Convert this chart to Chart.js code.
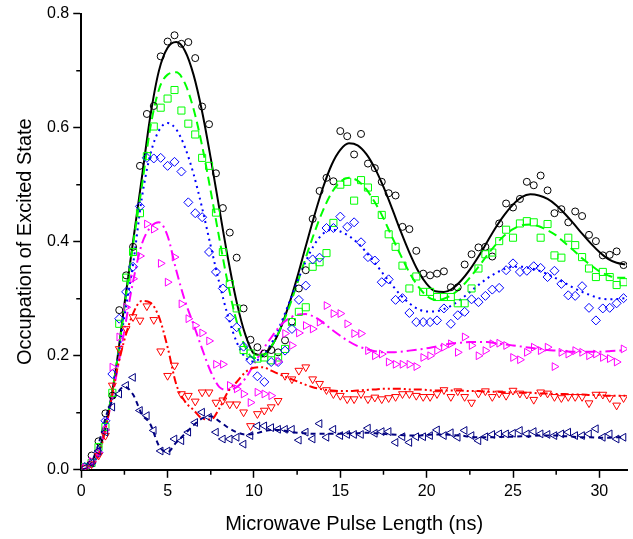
<!DOCTYPE html>
<html lang="en">
<head>
<meta charset="UTF-8">
<title>Occupation of Excited State</title>
<script src="https://cdn.jsdelivr.net/npm/chart.js"></script>
<style>
  html, body { margin: 0; padding: 0; background: #fff; }
  #wrap { width: 633px; height: 539px; }
</style>
</head>
<body>
<div id="wrap"><canvas id="chart" width="633" height="539"></canvas></div>
<script>
// measured pulse lengths (ns)
const pulseLength = [
  0.2, 0.6, 1.0, 1.4, 1.8, 2.2, 2.6, 3.0, 3.4, 3.8,
  4.2, 4.6, 5.0, 5.4, 5.8, 6.2, 6.6, 7.0, 7.4, 7.8,
  8.2, 8.6, 9.0, 9.4, 9.8, 10.2, 10.6, 11.0, 11.4, 11.8,
  12.2, 12.6, 13.0, 13.4, 13.8, 14.2, 14.6, 15.0, 15.4, 15.8,
  16.2, 16.6, 17.0, 17.4, 17.8, 18.2, 18.6, 19.0, 19.4, 19.8,
  20.2, 20.6, 21.0, 21.4, 21.8, 22.2, 22.6, 23.0, 23.4, 23.8,
  24.2, 24.6, 25.0, 25.4, 25.8, 26.2, 26.6, 27.0, 27.4, 27.8,
  28.2, 28.6, 29.0, 29.4, 29.8, 30.2, 30.6, 31.0, 31.4
];

const circleData = [
  0.005, 0.025, 0.05, 0.099, 0.13, 0.28, 0.341, 0.391, 0.533, 0.624,
  0.638, 0.725, 0.751, 0.762, 0.747, 0.75, 0.722, 0.637, 0.606, 0.52,
  0.459, 0.416, 0.372, 0.283, 0.228, 0.215, 0.204, 0.21, 0.206, 0.227,
  0.26, 0.318, 0.35, 0.44, 0.489, 0.512, 0.506, 0.594, 0.585, 0.553,
  0.589, 0.537, 0.529, 0.505, 0.485, 0.481, 0.426, 0.422, 0.384, 0.344,
  0.341, 0.344, 0.348, 0.32, 0.32, 0.36, 0.378, 0.39, 0.391, 0.374,
  0.432, 0.467, 0.46, 0.475, 0.505, 0.499, 0.516, 0.49, 0.45, 0.457,
  0.434, 0.453, 0.445, 0.412, 0.401, 0.376, 0.377, 0.383, 0.359
];
const squareData = [
  0.005, 0.012, 0.04, 0.075, 0.135, 0.256, 0.337, 0.382, 0.45, 0.55,
  0.602, 0.635, 0.651, 0.666, 0.63, 0.607, 0.588, 0.547, 0.533, 0.451,
  0.382, 0.326, 0.283, 0.21, 0.204, 0.195, 0.197, 0.192, 0.197, 0.212,
  0.259, 0.277, 0.285, 0.356, 0.364, 0.38, 0.433, 0.5, 0.505, 0.472,
  0.508, 0.495, 0.473, 0.447, 0.413, 0.391, 0.358, 0.318, 0.339, 0.312,
  0.312, 0.303, 0.303, 0.303, 0.292, 0.292, 0.318, 0.353, 0.378, 0.381,
  0.401, 0.421, 0.407, 0.432, 0.436, 0.434, 0.407, 0.431, 0.376, 0.372,
  0.407, 0.394, 0.373, 0.353, 0.338, 0.347, 0.338, 0.324, 0.329
];
const diamondData = [
  0.005, 0.012, 0.03, 0.086, 0.168, 0.265, 0.312, 0.356, 0.462, 0.547,
  0.546, 0.547, 0.533, 0.54, 0.523, 0.469, 0.45, 0.443, 0.382, 0.347,
  0.318, 0.267, 0.25, 0.216, 0.192, 0.164, 0.154, 0.189, 0.189, 0.209,
  0.247, 0.298, 0.323, 0.369, 0.372, 0.424, 0.424, 0.444, 0.426, 0.434,
  0.399, 0.373, 0.367, 0.329, 0.334, 0.298, 0.301, 0.275, 0.259, 0.259,
  0.259, 0.262, 0.283, 0.256, 0.271, 0.277, 0.299, 0.294, 0.305, 0.316,
  0.319, 0.35, 0.362, 0.347, 0.349, 0.357, 0.354, 0.338, 0.349, 0.326,
  0.306, 0.305, 0.322, 0.284, 0.262, 0.283, 0.284, 0.292, 0.301
];
const rightTriData = [
  0.004, 0.015, 0.03, 0.07, 0.18, 0.233, 0.285, 0.335, 0.375, 0.431,
  0.422, 0.362, 0.329, 0.373, 0.291, 0.265, 0.253, 0.24, 0.226, 0.185,
  0.185, 0.148, 0.142, 0.133, 0.118, 0.136, 0.133, 0.13, 0.19, 0.239,
  0.218, 0.24, 0.253, 0.247, 0.259, 0.288, 0.274, 0.274, 0.256, 0.239,
  0.239, 0.209, 0.2, 0.203, 0.189, 0.185, 0.185, 0.185, 0.181, 0.197,
  0.2, 0.209, 0.215, 0.221, 0.206, 0.233, 0.218, 0.2, 0.209, 0.221,
  0.222, 0.218, 0.197, 0.193, 0.206, 0.215, 0.209, 0.215, 0.181, 0.206,
  0.203, 0.209, 0.206, 0.2, 0.203, 0.197, 0.195, 0.189, 0.212
];
const downTriData = [
  0.003, 0.01, 0.025, 0.06, 0.148, 0.212, 0.247, 0.268, 0.262, 0.287,
  0.263, 0.208, 0.165, 0.183, 0.133, 0.13, 0.12, 0.136, 0.136, 0.118,
  0.122, 0.115, 0.115, 0.101, 0.077, 0.098, 0.104, 0.11, 0.121, 0.165,
  0.159, 0.174, 0.18, 0.159, 0.151, 0.14, 0.133, 0.13, 0.124, 0.124,
  0.133, 0.124, 0.127, 0.124, 0.126, 0.128, 0.133, 0.133, 0.13, 0.128,
  0.128, 0.133, 0.14, 0.128, 0.138, 0.128, 0.118, 0.134, 0.138, 0.128,
  0.134, 0.13, 0.139, 0.134, 0.132, 0.123, 0.136, 0.134, 0.128, 0.126,
  0.128, 0.128, 0.128, 0.117, 0.132, 0.132, 0.126, 0.113, 0.126
];
const leftTriData = [
  0.003, 0.012, 0.033, 0.066, 0.11, 0.133, 0.148, 0.162, 0.104, 0.095,
  0.069, 0.033, 0.033, 0.054, 0.051, 0.066, 0.083, 0.101, 0.092, 0.066,
  0.054, 0.054, 0.057, 0.045, 0.06, 0.077, 0.077, 0.074, 0.071, 0.071,
  0.071, 0.052, 0.066, 0.054, 0.081, 0.057, 0.071, 0.06, 0.062, 0.062,
  0.062, 0.073, 0.064, 0.067, 0.067, 0.048, 0.058, 0.048, 0.058, 0.058,
  0.06, 0.07, 0.06, 0.065, 0.057, 0.069, 0.06, 0.051, 0.058, 0.062,
  0.063, 0.063, 0.064, 0.069, 0.063, 0.067, 0.063, 0.062, 0.06, 0.063,
  0.066, 0.06, 0.06, 0.063, 0.072, 0.057, 0.063, 0.054, 0.057
];

const fitLength = [
  0, 0.5, 1, 1.5, 2, 2.5, 3, 3.5,
  4, 4.5, 5, 5.5, 6, 6.5, 7, 7.5,
  8, 8.5, 9, 9.5, 10, 10.5, 11, 11.5,
  12, 12.5, 13, 13.5, 14, 14.5, 15, 15.5,
  16, 16.5, 17, 17.5, 18, 18.5, 19, 19.5,
  20, 20.5, 21, 21.5, 22, 22.5, 23, 23.5,
  24, 24.5, 25, 25.5, 26, 26.5, 27, 27.5,
  28, 28.5, 29, 29.5, 30, 30.5, 31, 31.5
];
const circleFit = [
  0, 0.005, 0.03, 0.09, 0.175, 0.29, 0.4, 0.51,
  0.62, 0.7, 0.74, 0.75, 0.735, 0.693, 0.628, 0.546,
  0.457, 0.37, 0.294, 0.237, 0.204, 0.201, 0.216, 0.245,
  0.287, 0.337, 0.392, 0.446, 0.495, 0.535, 0.561, 0.5725,
  0.569, 0.554, 0.529, 0.496, 0.458, 0.418, 0.381, 0.349,
  0.326, 0.313, 0.312, 0.318, 0.332, 0.351, 0.374, 0.3995,
  0.425, 0.447, 0.465, 0.478, 0.483, 0.481, 0.475, 0.464,
  0.449, 0.432, 0.414, 0.397, 0.382, 0.37, 0.363, 0.36
];
const squareFit = [
  0, 0.005, 0.03, 0.09, 0.175, 0.285, 0.395, 0.495,
  0.6, 0.667, 0.693, 0.697, 0.678, 0.633, 0.568, 0.488,
  0.405, 0.325, 0.26, 0.215, 0.196, 0.199, 0.216, 0.245,
  0.282, 0.326, 0.372, 0.416, 0.455, 0.486, 0.505, 0.512,
  0.507, 0.492, 0.469, 0.441, 0.408, 0.376, 0.346, 0.322,
  0.305, 0.298, 0.3, 0.3075, 0.32, 0.337, 0.356, 0.376,
  0.395, 0.411, 0.422, 0.429, 0.43, 0.427, 0.42, 0.411,
  0.398, 0.385, 0.371, 0.359, 0.348, 0.341, 0.337, 0.337
];
const diamondFit = [
  0, 0.005, 0.03, 0.09, 0.17, 0.27, 0.36, 0.475,
  0.553, 0.595, 0.608, 0.597, 0.566, 0.519, 0.459, 0.392,
  0.327, 0.269, 0.224, 0.197, 0.19, 0.2, 0.221, 0.2525,
  0.29, 0.329, 0.3655, 0.395, 0.414, 0.421, 0.418, 0.41,
  0.398, 0.3815, 0.363, 0.343, 0.324, 0.306, 0.292, 0.282,
  0.2775, 0.2777, 0.282, 0.289, 0.2997, 0.3116, 0.324, 0.3355,
  0.345, 0.352, 0.3558, 0.356, 0.3537, 0.3493, 0.343, 0.3357,
  0.3275, 0.319, 0.312, 0.306, 0.301, 0.299, 0.2995, 0.301
];
const rightTriFit = [
  0, 0.005, 0.03, 0.085, 0.16, 0.245, 0.33, 0.395,
  0.425, 0.434, 0.41, 0.35, 0.297, 0.255, 0.212, 0.172,
  0.145, 0.14, 0.145, 0.16, 0.185, 0.21, 0.232, 0.252,
  0.265, 0.272, 0.273, 0.268, 0.258, 0.246, 0.235, 0.225,
  0.217, 0.212, 0.208, 0.206, 0.206, 0.207, 0.209, 0.211,
  0.213, 0.216, 0.219, 0.222, 0.223, 0.224, 0.224, 0.224,
  0.222, 0.22, 0.218, 0.216, 0.214, 0.212, 0.21, 0.209,
  0.208, 0.207, 0.207, 0.207, 0.207, 0.208, 0.209, 0.209
];
const downTriFit = [
  0, 0.004, 0.025, 0.085, 0.165, 0.228, 0.274, 0.296,
  0.293, 0.268, 0.215, 0.15, 0.12, 0.105, 0.09, 0.088,
  0.108, 0.137, 0.154, 0.171, 0.179, 0.18, 0.174, 0.167,
  0.161, 0.155, 0.149, 0.144, 0.141, 0.139, 0.138, 0.138,
  0.139, 0.14, 0.141, 0.142, 0.142, 0.142, 0.141, 0.141,
  0.14, 0.139, 0.139, 0.139, 0.139, 0.138, 0.138, 0.137,
  0.137, 0.136, 0.136, 0.135, 0.135, 0.134, 0.134, 0.133,
  0.133, 0.132, 0.132, 0.131, 0.131, 0.13, 0.13, 0.13
];
const leftTriFit = [
  0, 0.008, 0.045, 0.1, 0.13, 0.146, 0.132, 0.098,
  0.08, 0.042, 0.031, 0.048, 0.063, 0.078, 0.09, 0.094,
  0.085, 0.074, 0.066, 0.062, 0.063, 0.067, 0.07, 0.07,
  0.067, 0.065, 0.064, 0.063, 0.063, 0.063, 0.063, 0.064,
  0.064, 0.065, 0.064, 0.063, 0.062, 0.061, 0.06, 0.06,
  0.061, 0.062, 0.062, 0.061, 0.06, 0.058, 0.057, 0.057,
  0.057, 0.058, 0.058, 0.059, 0.059, 0.06, 0.06, 0.06,
  0.059, 0.058, 0.057, 0.057, 0.056, 0.056, 0.057, 0.057
];

const xTickValues = [0, 5, 10, 15, 20, 25, 30];
const xMinorTicks = [2.5, 7.5, 12.5, 17.5, 22.5, 27.5];
const yMinorTicks = [0.1, 0.3, 0.5, 0.7];

const FONT = "'Liberation Sans', Arial, sans-serif";
Chart.defaults.color = '#000';
Chart.defaults.font.family = FONT;

function toPoints(xs, ys) {
  return ys.map((y, i) => ({ x: xs[i], y: y }));
}

function markers(data, color, style, radius, rotation) {
  return {
    data: toPoints(pulseLength, data),
    showLine: false,
    pointStyle: style,
    pointRadius: radius,
    pointRotation: rotation || 0,
    pointBorderColor: color,
    pointBackgroundColor: 'rgba(0,0,0,0)',
    pointBorderWidth: 1
  };
}

function fitLine(data, color, dash) {
  return {
    data: toPoints(fitLength, data),
    showLine: true,
    borderColor: color,
    borderWidth: 2,
    borderDash: dash,
    pointRadius: 0,
    cubicInterpolationMode: 'monotone'
  };
}

const minorTicks = {
  id: 'minorTicks',
  afterDraw(chart) {
    const ctx = chart.ctx;
    const area = chart.chartArea;
    const xs = chart.scales.x, ys = chart.scales.y;
    ctx.save();
    ctx.strokeStyle = '#000';
    ctx.lineWidth = 1.5;
    ctx.beginPath();
    xMinorTicks.forEach(v => {
      const p = xs.getPixelForValue(v);
      ctx.moveTo(p, area.bottom);
      ctx.lineTo(p, area.bottom + 5);
    });
    yMinorTicks.forEach(v => {
      const p = ys.getPixelForValue(v);
      ctx.moveTo(area.left, p);
      ctx.lineTo(area.left - 5, p);
    });
    ctx.stroke();
    ctx.restore();
  }
};

new Chart(document.getElementById('chart'), {
  type: 'scatter',
  data: {
    datasets: [
      markers(leftTriData, '#000080', 'triangle', 4.5, -90),
      markers(downTriData, '#ff0000', 'triangle', 4.5, 180),
      markers(rightTriData, '#ff00ff', 'triangle', 4.5, 90),
      markers(diamondData, '#0000ff', 'rectRot', 4.5),
      markers(squareData, '#00ff00', 'rect', 5),
      markers(circleData, '#000000', 'circle', 3.5),
      fitLine(leftTriFit, '#000080', [5, 4]),
      fitLine(downTriFit, '#ff0000', [8, 3, 2, 3, 2, 3]),
      fitLine(rightTriFit, '#ff00ff', [10, 4, 2, 4]),
      fitLine(diamondFit, '#0000ff', [2, 4]),
      fitLine(squareFit, '#00ff00', [9, 5]),
      fitLine(circleFit, '#000000', [])
    ]
  },
  options: {
    responsive: false,
    animation: false,
    layout: { padding: { top: 8, right: 1, left: 13, bottom: 3 } },
    plugins: { legend: { display: false }, tooltip: { enabled: false } },
    scales: {
      x: {
        type: 'linear',
        min: 0,
        max: 31.6,
        afterBuildTicks: s => { s.ticks = xTickValues.map(v => ({ value: v })); },
        ticks: { font: { size: 16 }, padding: 4, maxRotation: 0 },
        grid: { drawOnChartArea: false, tickLength: 8, tickColor: '#000', tickWidth: 1.5 },
        border: { display: true, color: '#000', width: 2 },
        title: { display: true, text: 'Microwave Pulse Length (ns)', font: { size: 20 }, padding: { top: 7, bottom: 0 } }
      },
      y: {
        min: 0,
        max: 0.8,
        ticks: { stepSize: 0.2, font: { size: 16 }, padding: 4, callback: v => v.toFixed(1) },
        grid: { drawOnChartArea: false, tickLength: 8, tickColor: '#000', tickWidth: 1.5 },
        border: { display: true, color: '#000', width: 2 },
        title: { display: true, text: 'Occupation of Excited State', font: { size: 20 }, padding: { top: 0, bottom: 6 } }
      }
    }
  },
  plugins: [minorTicks]
});
</script>
</body>
</html>
